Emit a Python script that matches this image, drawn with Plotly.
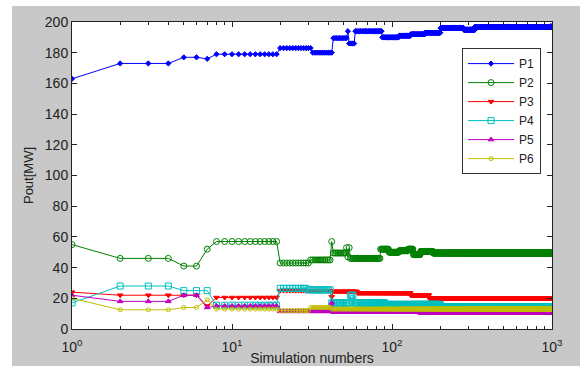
import plotly.graph_objects as go

# Piecewise-constant runs: last simulation index of each run, and its value
p1_ends = [1, 4, 6, 7, 19, 31, 42, 52, 53, 58, 86, 110, 130, 160, 200, 280, 330, 1000]
p1_vals = [163, 173, 177, 176, 179, 183, 180, 189.5, 194, 186, 194, 190, 191, 192, 193, 196, 195, 197]

p2_ends = [1, 4, 6, 7, 19, 30, 41, 42, 51, 52, 53, 54, 84, 95, 110, 125, 135, 150, 180, 1000]
p2_vals = [55, 46, 41, 52, 57, 43, 45, 57, 49.5, 53, 47, 53, 46, 52, 50, 51, 52, 48.5, 50.5, 49.5]

p3_ends = [1, 6, 7, 19, 41, 42, 60, 130, 170, 1000]
p3_vals = [24, 22, 15, 20.5, 25, 21, 24.5, 23.5, 22, 20]

p4_ends = [1, 4, 7, 19, 29, 41, 54, 57, 90, 200, 1000]
p4_vals = [17, 28, 25, 15.5, 26.5, 25.5, 17, 22, 17, 16, 14.5]

p5_ends = [1, 4, 6, 7, 19, 41, 42, 150, 1000]
p5_vals = [22, 18, 22, 14, 15, 11.5, 17, 11, 10.5]

p6_ends = [1, 4, 6, 7, 19, 30, 41, 1000]
p6_vals = [20, 12.5, 14, 19, 13, 12, 14, 13]

names = ["P1", "P2", "P3", "P4", "P5", "P6"]
colors = ["#0000FF", "#008000", "#FF0000", "#00BFBF", "#BF00BF", "#BFBF00"]
symbols = ["diamond", "circle-open", "triangle-down", "square-open", "triangle-up", "circle-open"]
msizes = [4, 6, 5, 6, 5, 4]

y_ticks = list(range(0, 201, 20))
x_ticks = [1, 10, 100, 1000]
x_ticktext = ["10<sup>0</sup>", "10<sup>1</sup>", "10<sup>2</sup>", "10<sup>3</sup>"]
x_minor = [m * d for d in (1, 10, 100) for m in range(2, 10)]


def expand(ends, vals):
    xs, ys = [], []
    start = 1
    for e, v in zip(ends, vals):
        for i in range(start, e + 1):
            xs.append(i)
            ys.append(v)
        start = e + 1
    return xs, ys


series = [(p1_ends, p1_vals), (p2_ends, p2_vals), (p3_ends, p3_vals),
          (p4_ends, p4_vals), (p5_ends, p5_vals), (p6_ends, p6_vals)]

fig = go.Figure()
for (ends, vals), nm, c, s, ms in zip(series, names, colors, symbols, msizes):
    xs, ys = expand(ends, vals)
    fig.add_trace(go.Scatter(
        x=xs, y=ys, name=nm, mode="lines+markers",
        line=dict(color=c, width=1),
        marker=dict(symbol=s, size=ms, color=c, line=dict(color=c, width=1)),
    ))

font = "Liberation Sans, Arial, sans-serif"
fig.update_layout(
    width=580, height=366,
    margin=dict(l=72, r=28, t=22, b=37),
    paper_bgcolor="white",
    plot_bgcolor="rgba(0,0,0,0)",
    font=dict(family=font, size=12, color="#222"),
    showlegend=True,
    legend=dict(x=0.8125, y=0.915, xanchor="left", yanchor="top",
                bgcolor="white", bordercolor="#333", borderwidth=1,
                font=dict(size=12, color="#222"), itemwidth=46,
                tracegroupgap=0),
    shapes=[
        dict(type="rect", xref="paper", yref="paper", x0=-0.125, x1=1.06,
             y0=-0.125, y1=1.052, fillcolor="#C8C8C8", line=dict(width=0), layer="below"),
        dict(type="rect", xref="paper", yref="paper", x0=0, x1=1,
             y0=0, y1=1, fillcolor="white", line=dict(width=0), layer="below"),
    ],
)
fig.update_xaxes(
    type="log", range=[0, 3], tickvals=x_ticks, ticktext=x_ticktext, automargin=False,
    showgrid=False, zeroline=False, showline=True, linecolor="#222", linewidth=1,
    mirror="ticks", ticks="inside", ticklen=5, tickcolor="#222",
    minor=dict(tickvals=x_minor, ticks="inside", ticklen=3, tickcolor="#222", showgrid=False),
    tickfont=dict(size=14), ticklabelstandoff=5,
    title=dict(text="Simulation numbers", font=dict(size=14), standoff=0),
)
fig.update_yaxes(
    range=[0, 200], tickvals=y_ticks, automargin=False,
    showgrid=False, zeroline=False, showline=True, linecolor="#222", linewidth=1,
    mirror="ticks", ticks="inside", ticklen=5, tickcolor="#222",
    tickfont=dict(size=14),
    title=dict(text="Pout[MW]", font=dict(size=13), standoff=8),
)

fig.write_html("out.html")
